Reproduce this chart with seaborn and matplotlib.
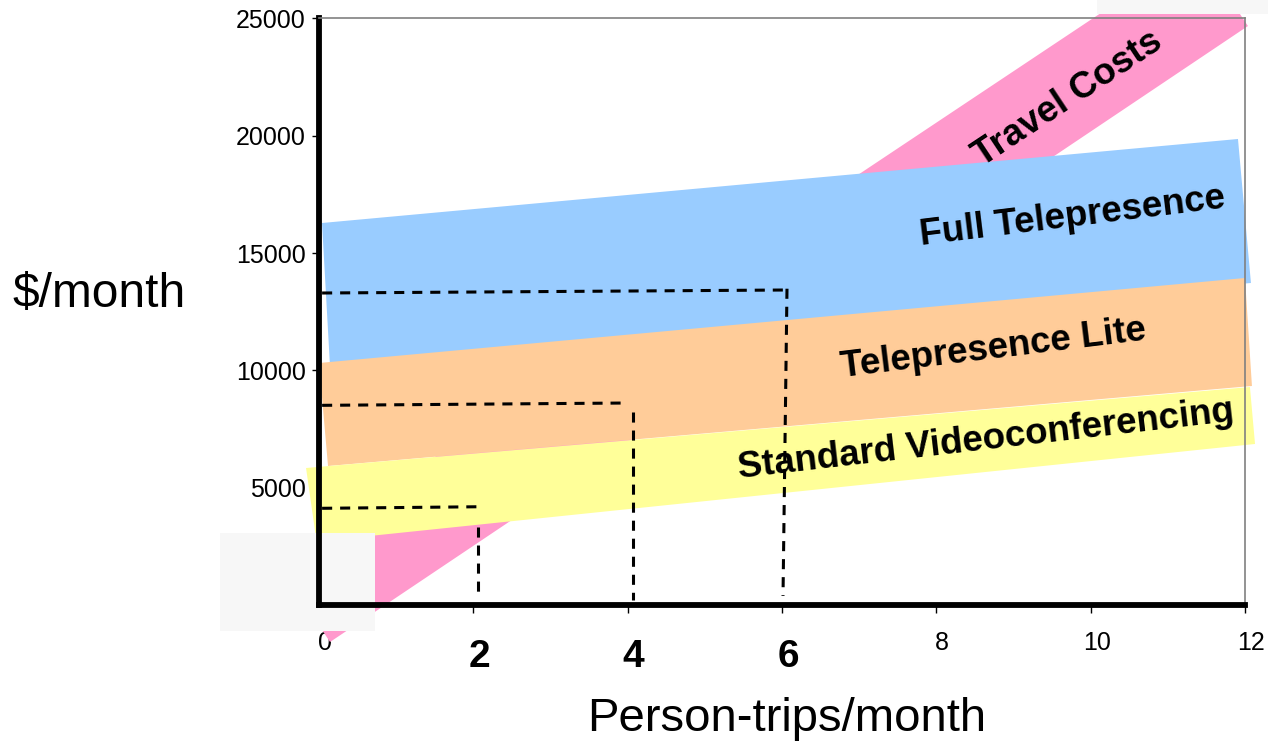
import numpy as np
import pandas as pd
import matplotlib
matplotlib.use("Agg")
import matplotlib.pyplot as plt
import matplotlib.transforms as mtransforms
from matplotlib.patches import Rectangle
import seaborn as sns

# ---------------- data ----------------
x_ticks = [0, 2, 4, 6, 8, 10, 12]
x_tick_labels = ["0", "2", "4", "6", "8", "10", "12"]
bold_ticks = [2, 4, 6]
y_ticks = [5000, 10000, 15000, 20000, 25000]
y_tick_labels = ["5000", "10000", "15000", "20000", "25000"]

# band outlines (x = person-trips/month, y = $/month)
travel_x = [-0.544, 0.143, 12.038, 11.377]
travel_y = [1833, -1577, 24680, 27962]
full_x = [0.039, 11.909, 12.077, 0.143]
full_y = [16283, 19864, 13726, 10145]
lite_x = [0.0, 12.0, 12.09, 0.117]
lite_y = [10315, 13939, 9335, 5925]
std_x = [-0.168, 12.064, 12.13, -0.032]
std_y = [5840, 9292, 6863, 2707]

# dashed break-even guides
guide6_x = [0.04, 6.05, 6.065, 6.013]
guide6_y = [13299, 13427, 13555, 384]
guide4_x = [0.04, 3.99]
guide4_y = [8511, 8610]
guide4v_x = [4.07, 4.07]
guide4v_y = [8227, 213]
guide2_x = [0.04, 2.14]
guide2_y = [4122, 4190]
guide2v_x = [2.06, 2.06]
guide2v_y = [3325, 512]

band_labels = ["Travel Costs", "Full Telepresence", "Telepresence Lite", "Standard Videoconferencing"]
label_x = [9.70, 9.77, 8.74, 8.64]
label_y = [21600, 16540, 10900, 7050]
label_rot = [33.5, 7.0, 7.0, 6.6]

# ---------------- style ----------------
sns.set_theme(style="white")
plt.rcParams["font.family"] = ["Liberation Sans", "DejaVu Sans"]
plt.rcParams["text.color"] = "black"
plt.rcParams["axes.labelcolor"] = "black"
plt.rcParams["xtick.color"] = "black"
plt.rcParams["ytick.color"] = "black"

fig = plt.figure(figsize=(12.68, 7.42), dpi=100)
ax = fig.add_axes([319 / 1268, 1 - 605 / 742, 926 / 1268, 586.5 / 742])
ax.set_xlim(0, 12)
ax.set_ylim(0, 25000)

PINK, BLUE, ORANGE, YELLOW = "#FF99CC", "#99CCFF", "#FFCC99", "#FFFF99"

ax.fill(travel_x, travel_y, color=PINK, lw=0, zorder=1.0, clip_on=False)
ax.fill(full_x, full_y, color=BLUE, lw=0, zorder=1.1, clip_on=False)
ax.fill(lite_x, lite_y, color=ORANGE, lw=0, zorder=1.2, clip_on=False)
ax.fill(std_x, std_y, color=YELLOW, lw=0, zorder=1.3, clip_on=False)

# slide artefacts (light grey boxes)
for (bx, by, bw, bh) in [(220 / 1268, 1 - 631 / 742, 155 / 1268, 98 / 742),
                         (1097 / 1268, 1 - 14 / 742, 171 / 1268, 14 / 742)]:
    ax.add_patch(Rectangle((bx, by), bw, bh, transform=fig.transFigure,
                           facecolor="#F7F7F7", edgecolor="none",
                           zorder=1.6, clip_on=False))

for gx, gy in [(guide6_x, guide6_y), (guide4_x, guide4_y), (guide4v_x, guide4v_y),
               (guide2_x, guide2_y), (guide2v_x, guide2v_y)]:
    sns.lineplot(x=gx, y=gy, sort=False, estimator=None, ax=ax, color="black",
                 lw=2.2, linestyle="--", zorder=2.0)
for line in ax.lines:
    line.set_dashes((3.3, 2.6))

for t, lx, ly, r in zip(band_labels, label_x, label_y, label_rot):
    ax.text(lx, ly, t, rotation=r, rotation_mode="anchor", ha="center",
            va="center", fontsize=26.5, fontweight="bold", color="black",
            zorder=3)

# spines
for s in ["left", "bottom"]:
    ax.spines[s].set_color("black")
    ax.spines[s].set_linewidth(4.2)
    ax.spines[s].set_zorder(2.6)
for s in ["top", "right"]:
    ax.spines[s].set_color("#808080")
    ax.spines[s].set_linewidth(1.2)
    ax.spines[s].set_zorder(2.6)

ax.set_xticks(x_ticks)
ax.set_xticklabels(x_tick_labels)
ax.set_yticks(y_ticks)
ax.set_yticklabels(y_tick_labels)
ax.tick_params(axis="x", direction="out", length=6, width=1, color="black",
               labelcolor="black", pad=13, labelsize=18, bottom=True)
ax.tick_params(axis="y", direction="out", length=5.4, width=1, color="black",
               labelcolor="black", pad=4, labelsize=18, left=True)
ax.grid(False)

xt = ax.xaxis.get_major_ticks()
xt[0].tick1line.set_visible(False)
for tick, val in zip(xt, x_ticks):
    dy = 0
    if val in bold_ticks:
        tick.label1.set_fontsize(28)
        tick.label1.set_fontweight("bold")
        dy = -8
    off = mtransforms.ScaledTranslation(6 / 100, dy / 100, fig.dpi_scale_trans)
    tick.label1.set_transform(tick.label1.get_transform() + off)

ax.set_xlabel("Person-trips/month", fontsize=34, va="baseline", color="black")
ax.xaxis.set_label_coords((787 - 319) / 926, (605 - 731) / 586.5)
ax.set_ylabel("$/month", fontsize=34.5, rotation=0, ha="center", va="baseline",
              color="black")
ax.yaxis.set_label_coords((99 - 319) / 926, (605 - 307) / 586.5)

fig.savefig("out.png", dpi=100)
